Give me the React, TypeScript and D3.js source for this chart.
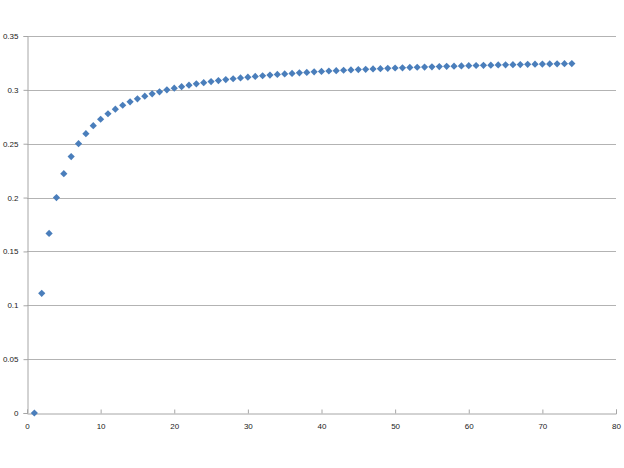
import React, { useRef, useEffect } from 'react';
import * as d3 from 'd3';

// series
const xValues = [
  1, 2, 3, 4, 5, 6, 7, 8, 9, 10, 11, 12, 13, 14, 15, 16, 17, 18, 19, 20,
  21, 22, 23, 24, 25, 26, 27, 28, 29, 30, 31, 32, 33, 34, 35, 36, 37, 38, 39, 40,
  41, 42, 43, 44, 45, 46, 47, 48, 49, 50, 51, 52, 53, 54, 55, 56, 57, 58, 59, 60,
  61, 62, 63, 64, 65, 66, 67, 68, 69, 70, 71, 72, 73, 74
];

const yValues = [
  0, 0.1111, 0.1667, 0.2, 0.2222, 0.2381, 0.25, 0.2593, 0.2667, 0.2727,
  0.2778, 0.2821, 0.2857, 0.2889, 0.2917, 0.2941, 0.2963, 0.2982, 0.3, 0.3016,
  0.303, 0.3043, 0.3056, 0.3067, 0.3077, 0.3086, 0.3095, 0.3103, 0.3111, 0.3118,
  0.3125, 0.3131, 0.3137, 0.3143, 0.3148, 0.3153, 0.3158, 0.3162, 0.3167, 0.3171,
  0.3175, 0.3178, 0.3182, 0.3185, 0.3188, 0.3191, 0.3194, 0.3197, 0.32, 0.3203,
  0.3205, 0.3208, 0.321, 0.3212, 0.3214, 0.3216, 0.3218, 0.322, 0.3222, 0.3224,
  0.3226, 0.3228, 0.3229, 0.3231, 0.3232, 0.3234, 0.3235, 0.3237, 0.3238, 0.3239,
  0.3241, 0.3242, 0.3243, 0.3244
];

const xTicks = [0, 10, 20, 30, 40, 50, 60, 70, 80];
const yTicks = [0, 0.05, 0.1, 0.15, 0.2, 0.25, 0.3, 0.35];

const width = 624;
const height = 468;
const margin = { top: 36, right: 8, bottom: 55, left: 27 };

const App: React.FC = () => {
  const svgRef = useRef<SVGSVGElement>(null);

  useEffect(() => {
    if (!svgRef.current) return;
    const svg = d3.select(svgRef.current);
    svg.selectAll('*').remove();

    const x = d3.scaleLinear().domain([0, 80]).range([margin.left, width - margin.right]);
    const y = d3.scaleLinear().domain([0, 0.35]).range([height - margin.bottom, margin.top]);

    svg.append('rect')
      .attr('width', width)
      .attr('height', height)
      .attr('fill', '#fff');

    // horizontal gridlines
    svg.append('g')
      .selectAll('line')
      .data(yTicks.filter(t => t > 0))
      .join('line')
      .attr('x1', x(0))
      .attr('x2', x(80))
      .attr('y1', d => Math.round(y(d)) + 0.5)
      .attr('y2', d => Math.round(y(d)) + 0.5)
      .attr('stroke', '#b3b3b3')
      .attr('stroke-width', 1);

    // y axis
    const yAxis = svg.append('g')
      .attr('transform', `translate(${x(0) + 0.5},0)`)
      .call(d3.axisLeft(y).tickValues(yTicks).tickSize(4).tickPadding(5)
        .tickFormat(d => d3.format('')(+d)));
    yAxis.select('.domain').attr('stroke', '#a6a6a6');
    yAxis.selectAll('.tick line').attr('stroke', '#a6a6a6');
    yAxis.selectAll('text')
      .attr('font-family', 'Liberation Sans, Arial, sans-serif')
      .attr('font-size', 8)
      .attr('fill', '#222');

    // x axis
    const xAxis = svg.append('g')
      .attr('transform', `translate(0,${Math.round(y(0)) + 0.5})`)
      .call(d3.axisBottom(x).tickValues(xTicks).tickSize(-4).tickPadding(10)
        .tickFormat(d => String(d)));
    xAxis.select('.domain').attr('stroke', '#a6a6a6');
    xAxis.selectAll('.tick line').attr('stroke', '#a6a6a6');
    xAxis.selectAll('text')
      .attr('font-family', 'Liberation Sans, Arial, sans-serif')
      .attr('font-size', 8)
      .attr('fill', '#222');

    // diamond markers
    const diamond = d3.symbol().type(d3.symbolSquare).size(26);
    svg.append('g')
      .selectAll('path')
      .data(xValues.map((xv, i) => ({ x: xv, y: yValues[i] })))
      .join('path')
      .attr('d', diamond)
      .attr('transform', d => `translate(${x(d.x)},${y(d.y)}) rotate(45)`)
      .attr('fill', '#4a7ebb');
  }, []);

  return (
    <svg
      ref={svgRef}
      width={width}
      height={height}
      style={{ position: 'absolute', left: 0, top: 0 }}
    />
  );
};

export default App;
